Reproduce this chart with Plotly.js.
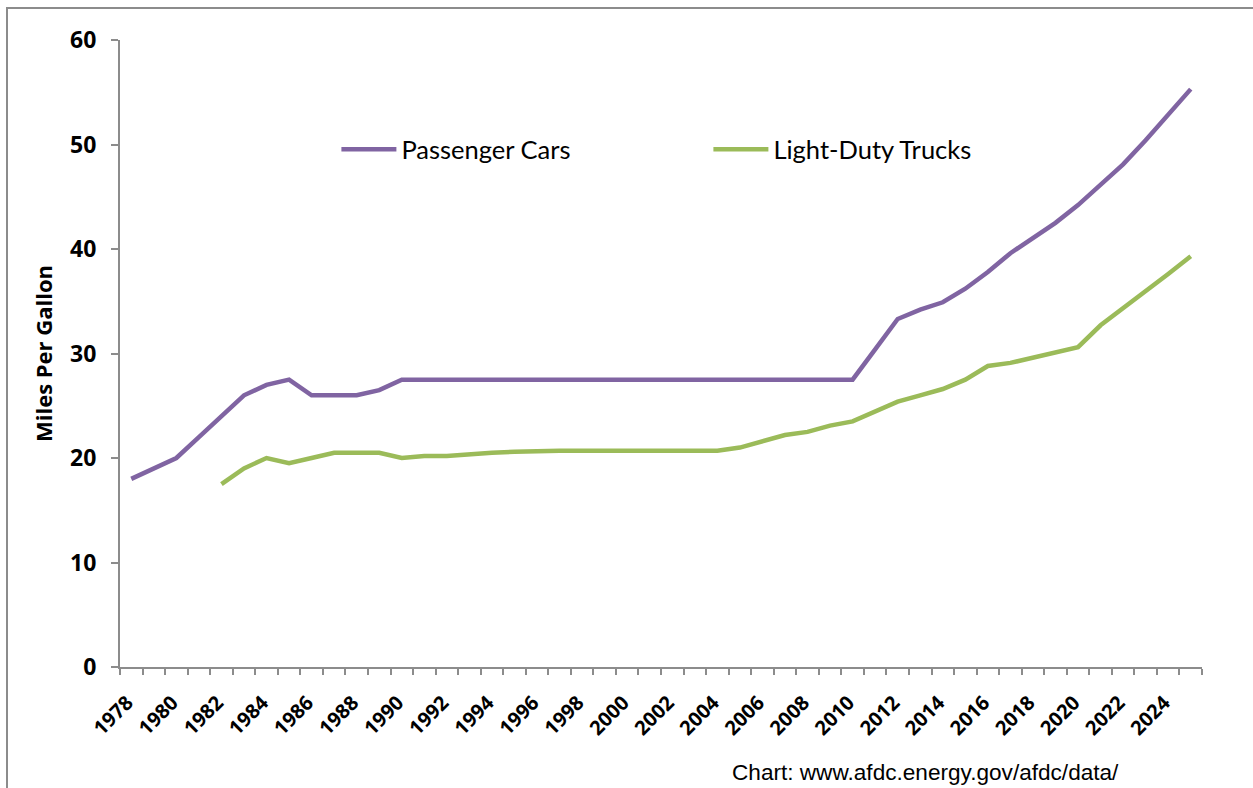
<!DOCTYPE html>
<html>
<head>
<meta charset="utf-8">
<script src="https://cdn.plot.ly/plotly-3.0.1.min.js"></script>
<style>
  html, body { margin: 0; padding: 0; overflow: hidden; background: #fff; }
  #chart { width: 1253px; height: 788px; }
  #frame { position: absolute; left: 6px; top: 7px; width: 2000px; height: 2000px;
           border: 2px solid #8c8c8c; pointer-events: none; }
</style>
</head>
<body>
<div id="chart"></div>
<div id="frame"></div>
<script>
const years = [1978,1979,1980,1981,1982,1983,1984,1985,1986,1987,1988,1989,
  1990,1991,1992,1993,1994,1995,1996,1997,1998,1999,2000,2001,2002,2003,2004,
  2005,2006,2007,2008,2009,2010,2011,2012,2013,2014,2015,2016,2017,2018,2019,
  2020,2021,2022,2023,2024,2025];

const passengerCars = [18,19,20,22,24,26,27,27.5,26,26,26,26.5,
  27.5,27.5,27.5,27.5,27.5,27.5,27.5,27.5,27.5,27.5,27.5,27.5,27.5,27.5,27.5,
  27.5,27.5,27.5,27.5,27.5,27.5,30.4,33.3,34.2,34.9,36.2,37.8,39.6,41.1,42.5,
  44.2,46.1,48.1,50.4,52.8,55.3];

const lightTrucks = [null,null,null,null,17.5,19.0,20.0,19.5,20.0,20.5,20.5,20.5,
  20.0,20.2,20.2,20.4,20.5,20.6,20.7,20.7,20.7,20.7,20.7,20.7,20.7,20.7,20.7,
  21.0,21.6,22.2,22.5,23.1,23.5,24.4,25.4,26.0,26.6,27.5,28.8,29.1,29.6,30.0,
  30.6,32.7,34.3,35.9,37.6,39.3];

const tickYears = [1978,1980,1982,1984,1986,1988,1990,1992,1994,1996,1998,2000,
  2002,2004,2006,2008,2010,2012,2014,2016,2018,2020,2022,2024];
const tickLabels = ['1978','1980','1982','1984','1986','1988','1990','1992','1994',
  '1996','1998','2000','2002','2004','2006','2008','2010','2012','2014','2016',
  '2018','2020','2022','2024'];

const seriesNames = ['Passenger Cars', 'Light-Duty Trucks'];
const seriesColors = ['#8064A2', '#9BBB59'];
const creditText = 'Chart: www.afdc.energy.gov/afdc/data/';
const yTitle = 'Miles Per Gallon';

const boundaries = years.map(y => y - 0.5).concat([years[years.length - 1] + 0.5]);

const traces = [
  { x: years, y: passengerCars, name: seriesNames[0], type: 'scatter', mode: 'lines',
    line: { color: seriesColors[0], width: 4.5 }, connectgaps: false },
  { x: years, y: lightTrucks, name: seriesNames[1], type: 'scatter', mode: 'lines',
    line: { color: seriesColors[1], width: 4.5 }, connectgaps: false }
];

const axisGray = '#8c8c8c';
const boldFont = '"Open Sans", Lato, sans-serif';

const layout = {
  width: 1253, height: 788,
  margin: { l: 120, r: 51, t: 40, b: 121 },
  paper_bgcolor: '#fff', plot_bgcolor: '#fff',
  font: { family: 'Lato, "Open Sans", sans-serif', color: '#000' },
  showlegend: true,
  legend: {
    orientation: 'h', x: 0.2, xanchor: 'left', y: 0.825, yanchor: 'middle',
    font: { family: 'Lato, sans-serif', size: 25.5, color: '#000' },
    itemwidth: 55, entrywidth: 302, entrywidthmode: 'pixels',
    bgcolor: 'rgba(0,0,0,0)', traceorder: 'normal'
  },
  xaxis: {
    range: [years[0] - 0.5, years[years.length - 1] + 0.5],
    tickmode: 'array', tickvals: tickYears, ticktext: tickLabels,
    tickangle: -45, ticks: 'outside', ticklen: 0, tickcolor: axisGray,
    ticklabelstandoff: 14, ticklabelshift: -4,
    tickfont: { family: boldFont, size: 20, color: '#000', weight: 'bold' },
    minor: { tickmode: 'array', tickvals: boundaries, ticks: 'outside', ticklen: 6,
             tickcolor: axisGray, tickwidth: 2, showgrid: false },
    showline: true, linecolor: axisGray, linewidth: 2,
    showgrid: false, zeroline: false, fixedrange: true
  },
  yaxis: {
    range: [0, 60], tickmode: 'array', tickvals: [0,10,20,30,40,50,60],
    ticks: 'outside', ticklen: 7, tickcolor: axisGray, tickwidth: 2,
    ticklabelstandoff: 10,
    tickfont: { family: boldFont, size: 23, color: '#000', weight: 'bold' },
    showline: true, linecolor: axisGray, linewidth: 2,
    showgrid: false, zeroline: false,
    title: { text: yTitle, font: { family: boldFont, size: 22, weight: 'bold', color: '#000' }, standoff: 11 },
    fixedrange: true
  },
  annotations: [
    { text: creditText, xref: 'paper', yref: 'paper', x: (730 - 120) / 1082, xanchor: 'left',
      y: -0.168, yanchor: 'middle', showarrow: false,
      font: { family: '"Liberation Sans", Arial, sans-serif', size: 22.6, color: '#000' } }
  ]
};

Plotly.newPlot('chart', traces, layout, { displayModeBar: false, staticPlot: true });
</script>
</body>
</html>
